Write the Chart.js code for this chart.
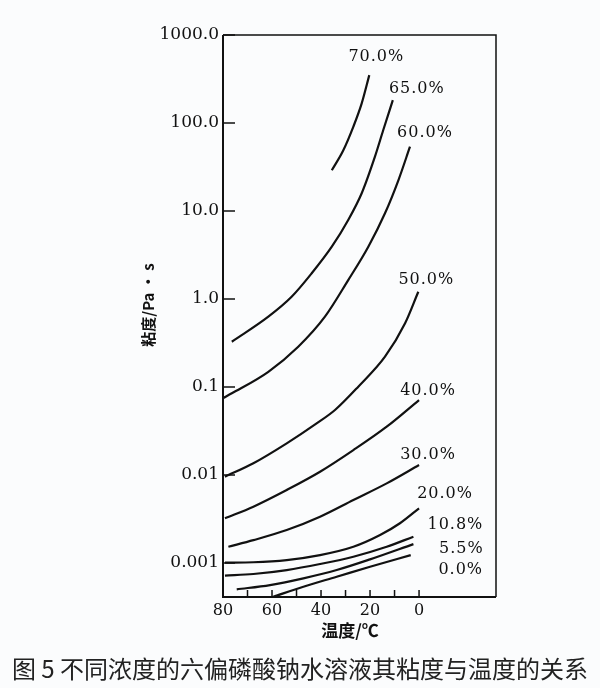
<!DOCTYPE html>
<html>
<head>
<meta charset="utf-8">
<script src="https://cdn.jsdelivr.net/npm/chart.js@4.4.1/dist/chart.umd.min.js"></script>
<style>
body { margin: 0; background: #fbfcfd; }
#wrap { position: relative; width: 600px; height: 688px; }
#caption { position: absolute; left: 0; top: 650px; width: 600px; text-align: center;
  font: 24px "Noto Sans CJK SC", sans-serif; color: #222; white-space: nowrap; }
</style>
</head>
<body>
<div id="wrap">
  <canvas id="grafica" width="600" height="688"></canvas>
  <div id="caption">图 5 不同浓度的六偏磷酸钠水溶液其粘度与温度的关系</div>
</div>
<script>
// concentraciones (etiquetas de cada curva)
const conc = ['70.0%', '65.0%', '60.0%', '50.0%', '40.0%', '30.0%', '20.0%', '10.8%', '5.5%', '0.0%'];

// temperatura (°C) y viscosidad (Pa·s)
const temp70 = [35.6, 30.9, 26.8, 23.4, 20.3];
const visc70 = [29, 49, 91, 167, 350];
const temp65 = [76.4, 61.5, 52.0, 43.8, 35.6, 28.9, 23.4, 18.0, 14.6, 10.7];
const visc65 = [0.327, 0.63, 1.06, 1.96, 3.93, 7.9, 15.9, 41.4, 83.2, 182];
const temp60 = [79.9, 76.4, 61.5, 49.3, 38.4, 28.9, 20.7, 13.9, 8.4, 3.7];
const visc60 = [0.075, 0.0848, 0.149, 0.287, 0.63, 1.64, 3.93, 9.42, 22.5, 53.8];
const temp50 = [79.2, 67.6, 54.0, 41.8, 34.3, 24.8, 13.9, 5.7, 0.3];
const visc50 = [0.00957, 0.0136, 0.0229, 0.0386, 0.0548, 0.101, 0.221, 0.53, 1.21];
const temp40 = [79.2, 67.6, 54.0, 40.4, 26.8, 13.2, 0];
const visc40 = [0.00322, 0.00437, 0.00676, 0.0109, 0.0192, 0.0354, 0.0711];
const temp30 = [77.8, 67.6, 54.0, 40.4, 26.8, 13.2, 0];
const visc30 = [0.00153, 0.00182, 0.00237, 0.00336, 0.0052, 0.00804, 0.013];
const temp20 = [79.2, 67.6, 54.0, 40.4, 26.8, 15.9, 7.8, 0];
const visc20 = [0.00101, 0.00102, 0.00108, 0.00123, 0.00153, 0.00208, 0.00283, 0.00419];
const temp108 = [79.2, 67.6, 54.0, 40.4, 26.8, 13.2, 2.3];
const visc108 = [0.000718, 0.00075, 0.000832, 0.000975, 0.00118, 0.00153, 0.00199];
const temp55 = [74.4, 60.8, 47.2, 33.6, 20.0, 2.3];
const visc55 = [0.000502, 0.000562, 0.00067, 0.000832, 0.0011, 0.00164];
const temp0 = [59.5, 47.2, 33.6, 20.0, 3.4];
const visc0 = [0.000414, 0.000538, 0.000698, 0.000908, 0.00123];

// marcas de los ejes
const xTickValues = [80, 70, 60, 50, 40, 30, 20, 10, 0];
const xTickLabels = ['80', '', '60', '', '40', '', '20', '', '0'];
const yTickValues = [0.001, 0.01, 0.1, 1, 10, 100, 1000];
const yTickLabels = ['0.001', '0.01', '0.1', '1.0', '10.0', '100.0', '1000.0'];

const temps = [temp70, temp65, temp60, temp50, temp40, temp30, temp20, temp108, temp55, temp0];
const viscs = [visc70, visc65, visc60, visc50, visc40, visc30, visc20, visc108, visc55, visc0];

const datasets = conc.map((c, i) => ({
    label: c,
    data: temps[i].map((t, j) => ({ x: t, y: viscs[i][j] })),
    borderColor: '#111',
    borderWidth: 2.2,
    pointRadius: 0,
    fill: false,
    cubicInterpolationMode: 'monotone'
}));

// desplazamiento de cada rotulo respecto al extremo superior de su curva
const rotuloDx = [7, 24, 15, 8, 9, 9, 26, 42, 48, 50];
const rotuloDy = [-18, -11, -14, -12, -9, -10, -14, -12, 5, 15];

const marcoPlugin = {
    id: 'marco',
    afterDatasetsDraw(chart) {
        const ctx = chart.ctx;
        const a = chart.chartArea;
        const x = chart.scales.x;
        const y = chart.scales.y;
        ctx.save();
        ctx.strokeStyle = '#111';

        // marco superior y derecho
        ctx.lineWidth = 1.5;
        ctx.beginPath();
        ctx.moveTo(a.left, a.top);
        ctx.lineTo(a.right, a.top);
        ctx.lineTo(a.right, a.bottom);
        ctx.stroke();
        // ejes
        ctx.lineWidth = 2;
        ctx.beginPath();
        ctx.moveTo(a.left, a.top);
        ctx.lineTo(a.left, a.bottom);
        ctx.lineTo(a.right, a.bottom);
        ctx.stroke();

        // marcas hacia dentro
        ctx.lineWidth = 1.5;
        ctx.beginPath();
        yTickValues.forEach(v => {
            const py = y.getPixelForValue(v);
            ctx.moveTo(a.left, py);
            ctx.lineTo(a.left + 12, py);
        });
        xTickValues.forEach(v => {
            const px = x.getPixelForValue(v);
            ctx.moveTo(px, a.bottom);
            ctx.lineTo(px, a.bottom - 7);
        });
        ctx.stroke();

        // rotulos de las curvas
        ctx.fillStyle = '#111';
        ctx.font = '16px "DejaVu Serif"';
        ctx.letterSpacing = '1px';
        ctx.textAlign = 'center';
        ctx.textBaseline = 'middle';
        datasets.forEach((ds, i) => {
            const last = ds.data[ds.data.length - 1];
            const px = x.getPixelForValue(last.x) + rotuloDx[i];
            const py = y.getPixelForValue(last.y) + rotuloDy[i];
            ctx.fillText(conc[i], px, py);
        });
        ctx.letterSpacing = '0px';

        // titulos de los ejes
        ctx.font = 'bold 17px "Noto Sans CJK SC"';
        ctx.fillText('温度/℃', 350, 631);
        ctx.translate(148, 305);
        ctx.rotate(-Math.PI / 2);
        ctx.font = 'bold 15px "Noto Sans CJK SC"';
        ctx.fillText('粘度/Pa · s', 0, 0);
        ctx.restore();
    }
};

const ctx = document.getElementById('grafica').getContext('2d');
const viscChart = new Chart(ctx, {
    type: 'line',
    data: { datasets: datasets },
    plugins: [marcoPlugin],
    options: {
        responsive: false,
        animation: false,
        layout: { padding: { top: 35, right: 104, left: 0, bottom: 0 } },
        plugins: { legend: { display: false }, tooltip: { enabled: false } },
        scales: {
            x: {
                type: 'linear',
                reverse: true,
                min: -31.4,
                max: 80,
                grid: { display: false, drawTicks: false, tickLength: 0 },
                border: { display: false },
                afterBuildTicks: scale => { scale.ticks = xTickValues.map(v => ({ value: v })); },
                afterFit: scale => { scale.height = 91; },
                ticks: {
                    autoSkip: false,
                    maxRotation: 0,
                    padding: 4,
                    color: '#111',
                    font: { family: 'DejaVu Serif', size: 16 },
                    callback: (v, i) => xTickLabels[i]
                }
            },
            y: {
                type: 'logarithmic',
                min: 0.000411,
                max: 1000,
                grid: { display: false, drawTicks: false, tickLength: 0 },
                border: { display: false },
                afterBuildTicks: scale => { scale.ticks = yTickValues.map(v => ({ value: v })); },
                afterFit: scale => { scale.width = 223; },
                ticks: {
                    autoSkip: false,
                    padding: 4,
                    color: '#111',
                    font: { family: 'DejaVu Serif', size: 17 },
                    callback: (v, i) => yTickLabels[i]
                }
            }
        }
    }
});
</script>
</body>
</html>
